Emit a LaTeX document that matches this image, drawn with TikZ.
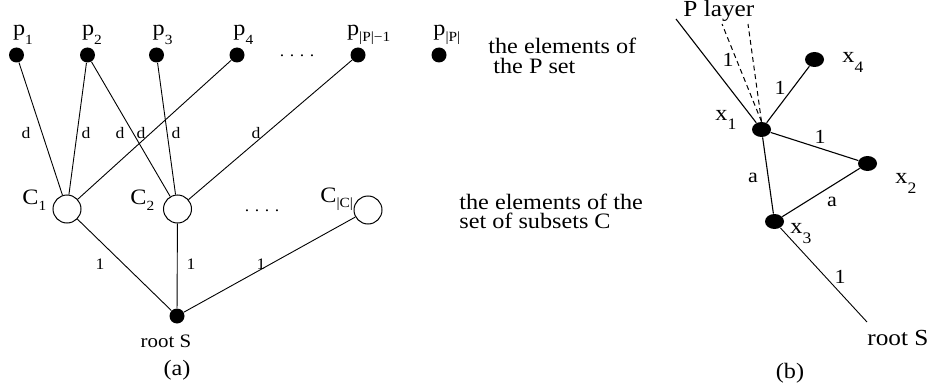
\documentclass[tikz,border=0pt]{standalone}
\usepackage{fontspec}
\setmainfont[FakeStretch=1.1]{Liberation Serif}
\usetikzlibrary{shapes.geometric}
\newcommand{\fs}[1]{\fontsize{#1}{#1}\selectfont}
\newcommand{\sbx}[2][-4.5pt]{\raisebox{#1}{\fs{7}#2}}
\newcommand{\sbb}[2][-5pt]{\raisebox{#1}{\fs{8}#2}}
\tikzset{
  pdot/.style={circle, fill=black, inner sep=0pt, minimum size=7.5pt},
  cnode/.style={circle, draw=black, line width=0.5pt, inner sep=0pt, minimum size=14pt},
  bdot/.style={ellipse, fill=black, inner sep=0pt, minimum width=9.5pt, minimum height=7.5pt},
  lbl/.style={inner sep=0pt, font=\fs{11}},
  dlbl/.style={inner sep=0pt, font=\fs{8}},
  blbl/.style={inner sep=0pt, font=\fs{10}},
  edgea/.style={line width=0.45pt},
  edgeb/.style={line width=0.55pt},
  dashb/.style={line width=0.5pt, dash pattern=on 2.5pt off 1.8pt},
}
\begin{document}
\begin{tikzpicture}[x=0.5pt, y=-0.5pt]
\useasboundingbox (0,0) rectangle (931,390);
% ---------- (a) ----------
\node[pdot] (p1) at (16.5,55) {};
\node[pdot] (p2) at (87.5,55) {};
\node[pdot] (p3) at (156.5,55) {};
\node[pdot] (p4) at (237,55) {};
\node[pdot] (pP1) at (358,55) {};
\node[pdot] (pP) at (439,55) {};
\node[lbl, anchor=base west] (lp1) at (12.7,36) {p\sbx{1}};
\node[lbl, anchor=base west] (lp2) at (81.7,36) {p\sbx{2}};
\node[lbl, anchor=base west] (lp3) at (152.3,36) {p\sbx{3}};
\node[lbl, anchor=base west] (lp4) at (233,36) {p\sbx{4}};
\node[lbl, anchor=base west] (lpP1) at (346.7,36) {p\sbx[-3pt]{|P|−1}};
\node[lbl, anchor=base west] (lpP) at (433,36) {p\sbx[-3pt]{|P|}};
\node[dlbl] (dotsP) at (297,56) {.\hspace{2.8pt}.\hspace{2.8pt}.\hspace{2.8pt}.};

\node[cnode] (C1) at (67,209) {};
\node[cnode] (C2) at (177.5,209) {};
\node[cnode] (CC) at (368,210) {};
\node[lbl, anchor=base west] (lC1) at (22,204) {C\sbx[-3pt]{1}};
\node[lbl, anchor=base west] (lC2) at (130,204) {C\sbx[-3pt]{2}};
\node[lbl, anchor=base west] (lCC) at (320,202) {C\sbx[-2.5pt]{|C|}};
\node[dlbl] (dotsC) at (262,211) {.\hspace{2.8pt}.\hspace{2.8pt}.\hspace{2.8pt}.};

\node[pdot] (root) at (177,316) {};
\node[inner sep=0pt, font=\fs{9.5}] (lroot) at (166,341) {root S};
\node[inner sep=0pt, font=\fs{11}] (capa) at (177,370) {(a)};

\draw[edgea] (p1) -- (C1);
\draw[edgea] (p2) -- (C1);
\draw[edgea] (p2) -- (C2);
\draw[edgea] (p3) -- (C2);
\draw[edgea] (p4) -- (C1);
\draw[edgea] (pP1) -- (C2);
\draw[edgea] (C1) -- (root);
\draw[edgea] (C2) -- (root);
\draw[edgea] (CC) -- (root);

\node[dlbl] (d1) at (26,133) {d};
\node[dlbl] (d2) at (86,133) {d};
\node[dlbl] (d3) at (120,133) {d};
\node[dlbl] (d4) at (141,133) {d};
\node[dlbl] (d5) at (176,133) {d};
\node[dlbl] (d6) at (256,133) {d};
\node[dlbl] (o1) at (100,264) {1};
\node[dlbl] (o2) at (191,264) {1};
\node[dlbl] (o3) at (261,264) {1};

\node[lbl, anchor=north west, align=left, font=\fontsize{11}{10}\selectfont] (tP) at (488,38)
  {the elements of\\\hspace{2.5pt}the P set};
\node[lbl, anchor=north west, align=left, font=\fontsize{11}{9.5}\selectfont] (tC) at (459,194)
  {the elements of the\\set of subsets C};

% ---------- (b) ----------
\node[bdot] (x1) at (761.5,129.5) {};
\node[bdot] (x4) at (814.5,59.5) {};
\node[bdot] (x2) at (867.5,163.5) {};
\node[bdot] (x3) at (774.5,221.5) {};
\coordinate (pl0) at (676,19);
\coordinate (pl1) at (722,24);
\coordinate (pl2) at (748,24);
\coordinate (rb) at (867,322);

\draw[edgeb] (x1) -- (pl0);
\draw[dashb] (x1.north) -- (pl1);
\draw[dashb] (x1.north) -- (pl2);
\draw[edgeb] (x1) -- (x4);
\draw[edgeb] (x1) -- (x2);
\draw[edgeb] (x1) -- (x3);
\draw[edgeb] (x3) -- (x2);
\draw[edgea] (x3) -- (rb);

\node[inner sep=0pt, anchor=base west, font=\fs{11.5}] (play) at (683,17) {P layer};
\node[lbl, anchor=base west] (lx1) at (715,120) {x\sbb{1}};
\node[lbl, anchor=base west] (lx4) at (842,63) {x\sbb{4}};
\node[lbl, anchor=base west] (lx2) at (895,184) {x\sbb{2}};
\node[lbl, anchor=base west] (lx3) at (790,233) {x\sbb{3}};
\node[blbl] (b1) at (728,60) {1};
\node[blbl] (b2) at (780,88) {1};
\node[blbl] (b3) at (820,137) {1};
\node[blbl] (b4) at (753,178) {a};
\node[blbl] (b5) at (832,202) {a};
\node[blbl] (b6) at (840,277) {1};
\node[inner sep=0pt, anchor=base west, font=\fs{11.5}] (lrb) at (867,345) {root S};
\node[inner sep=0pt, font=\fs{11}] (capb) at (790,373) {(b)};
\end{tikzpicture}
\end{document}
